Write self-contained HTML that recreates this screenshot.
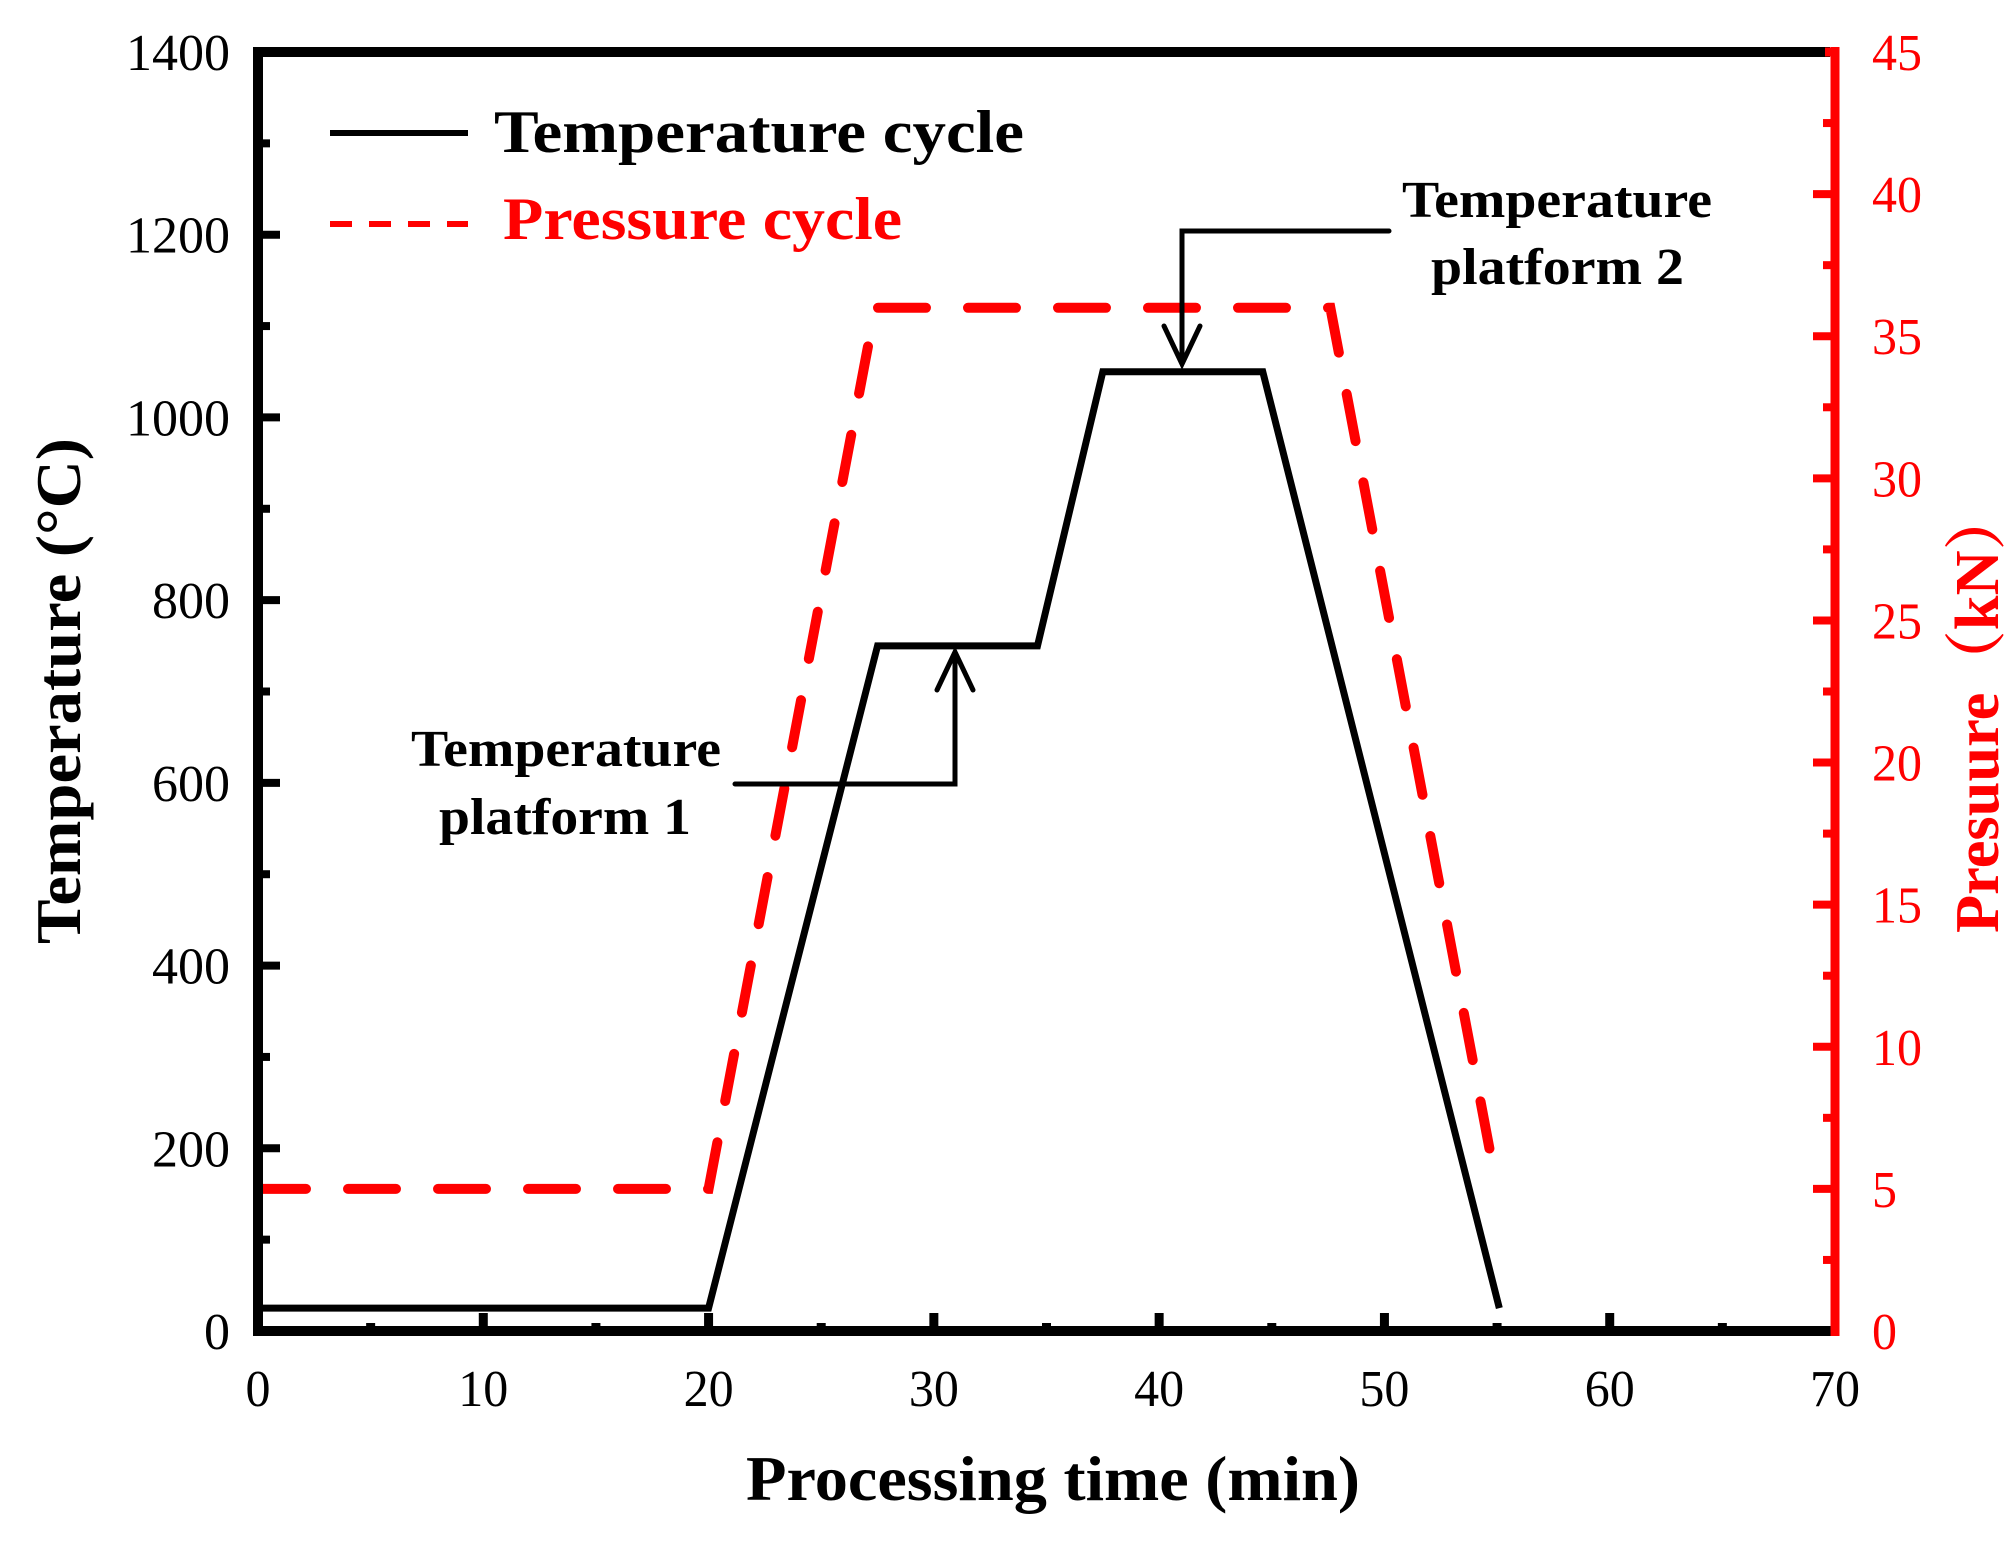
<!DOCTYPE html>
<html><head><meta charset="utf-8"><style>
html,body{margin:0;padding:0;background:#fff;}
svg{display:block;font-family:"Liberation Serif","Noto Serif CJK SC",serif;}
</style></head><body>
<svg id="chart" width="2016" height="1550" viewBox="0 0 2016 1550" xmlns="http://www.w3.org/2000/svg">
<rect width="2016" height="1550" fill="#fff"/>
<g id="plot"></g>
</svg>
<script>
const timeMin = [0, 20, 27.5, 34.6, 37.5, 44.6, 55.1];
const temperature = [25, 25, 750, 750, 1050, 1050, 25];
const pressTime = [0, 20, 27.4, 47.6, 55];
const pressure = [5, 5, 36, 36, 5];
const xTicks = [0,10,20,30,40,50,60,70];
const yTicks = [0,200,400,600,800,1000,1200,1400];
const y2Ticks = [0,5,10,15,20,25,30,35,40,45];

const L=258, R=1835, T=52, B=1331;
const xs = v => L + v/70*(R-L);
const ys = v => B - v/1400*(B-T);
const y2s = v => B - v/45*(B-T);
const NS='http://www.w3.org/2000/svg';
const g=document.getElementById('plot');
function mk(tag, attrs, parent){const e=document.createElementNS(NS,tag);for(const k in attrs)e.setAttribute(k,attrs[k]);(parent||g).appendChild(e);return e;}
function txt(s,attrs){const e=mk('text',attrs);e.textContent=s;return e;}

let d=timeMin.map((t,i)=>(i?'L':'M')+xs(t)+' '+ys(temperature[i])).join(' ');
let p=mk('path',{d:d,fill:'none',stroke:'#000','stroke-width':7,'stroke-linejoin':'miter'});


d=pressTime.map((t,i)=>(i?'L':'M')+xs(t)+' '+y2s(pressure[i])).join(' ');
p=mk('path',{d:d,fill:'none',stroke:'#ff0000','stroke-width':10,'stroke-dasharray':'48 42','stroke-linecap':'round'});



let a=mk('path',{d:`M${L} ${T} L${R-5} ${T} M${L} ${T-5} L${L} ${B+5} M${L-5} ${B} L${R} ${B}`,stroke:'#000','stroke-width':10,fill:'none'});


a=mk('path',{d:`M${R-10} ${T} L${R} ${T} M${R} ${T-5} L${R} ${B+5}`,stroke:'#ff0000','stroke-width':9,fill:'none'});



for(let i=0;i<=14;i++){const v=i*5;const x=xs(v);const len=i%2?8:18;
 if(v>0&&v<70) mk('line',{x1:x,y1:B,x2:x,y2:B-len,stroke:'#000','stroke-width':9});}
xTicks.forEach(v=>{const t=txt(v,{x:xs(v),y:1406,'text-anchor':'middle','font-size':52,fill:'#000',textLength:v>=10?50:25,lengthAdjust:'spacingAndGlyphs'});
 
 });
for(let i=1;i<14;i++){const v=i*100;const y=ys(v);const len=i%2?12:22;mk('line',{x1:L,y1:y,x2:L+len,y2:y,stroke:'#000','stroke-width':8});}
yTicks.forEach(v=>{const s=String(v);const t=txt(s,{x:230,y:ys(v)+18,'text-anchor':'end','font-size':52,fill:'#000',textLength:s.length*26,lengthAdjust:'spacingAndGlyphs'});
 
 });
for(let i=1;i<18;i++){const v=i*2.5;const y=y2s(v);const len=i%2?12:22;mk('line',{x1:R,y1:y,x2:R-len,y2:y,stroke:'#ff0000','stroke-width':8});}
y2Ticks.forEach(v=>{const s=String(v);const t=txt(s,{x:1872,y:y2s(v)+18,'text-anchor':'start','font-size':52,fill:'#ff0000',textLength:s.length*25,lengthAdjust:'spacingAndGlyphs'});
 
 });
</script>
<svg style="position:absolute;left:0;top:0" width="2016" height="1550" viewBox="0 0 2016 1550">
<g font-family="Liberation Serif, serif" font-weight="bold">
<text x="746" y="1500" font-size="64" textLength="614" lengthAdjust="spacingAndGlyphs">Processing time (min)</text>
<text transform="translate(80,944) rotate(-90)" font-size="64" textLength="506" lengthAdjust="spacingAndGlyphs">Temperature (°C)</text>
<text transform="translate(1998,933) rotate(-90)" font-size="62" fill="#ff0000" textLength="445" lengthAdjust="spacingAndGlyphs" font-family="Liberation Serif, Noto Serif CJK SC, serif">Presuure（kN）</text>
<g>
<line x1="330" y1="133" x2="468" y2="133" stroke="#000" stroke-width="6"/>
<text x="494" y="152" font-size="60" textLength="530" lengthAdjust="spacingAndGlyphs">Temperature cycle</text>
<line x1="330" y1="224" x2="468" y2="224" stroke="#ff0000" stroke-width="6" stroke-dasharray="22 17"/>
<text x="503" y="239" font-size="60" fill="#ff0000" textLength="399" lengthAdjust="spacingAndGlyphs">Pressure cycle</text>
</g>
<g>
<text x="1402" y="217" font-size="52" textLength="310" lengthAdjust="spacingAndGlyphs">Temperature</text>
<text x="1431" y="284" font-size="52" textLength="253" lengthAdjust="spacingAndGlyphs">platform 2</text>
<path d="M1389 231 L1182 231 L1182 364 M1164 326 L1182 364 L1200 326" fill="none" stroke="#000" stroke-width="5" stroke-linecap="round"/>
</g>
<g>
<text x="411" y="766" font-size="52" textLength="310" lengthAdjust="spacingAndGlyphs">Temperature</text>
<text x="439" y="834" font-size="52" textLength="252" lengthAdjust="spacingAndGlyphs">platform 1</text>
<path d="M735 784 L955 784 L955 652 M937 690 L955 652 L973 690" fill="none" stroke="#000" stroke-width="5" stroke-linecap="round"/>
</g>
</g>
</svg>
</body></html>
